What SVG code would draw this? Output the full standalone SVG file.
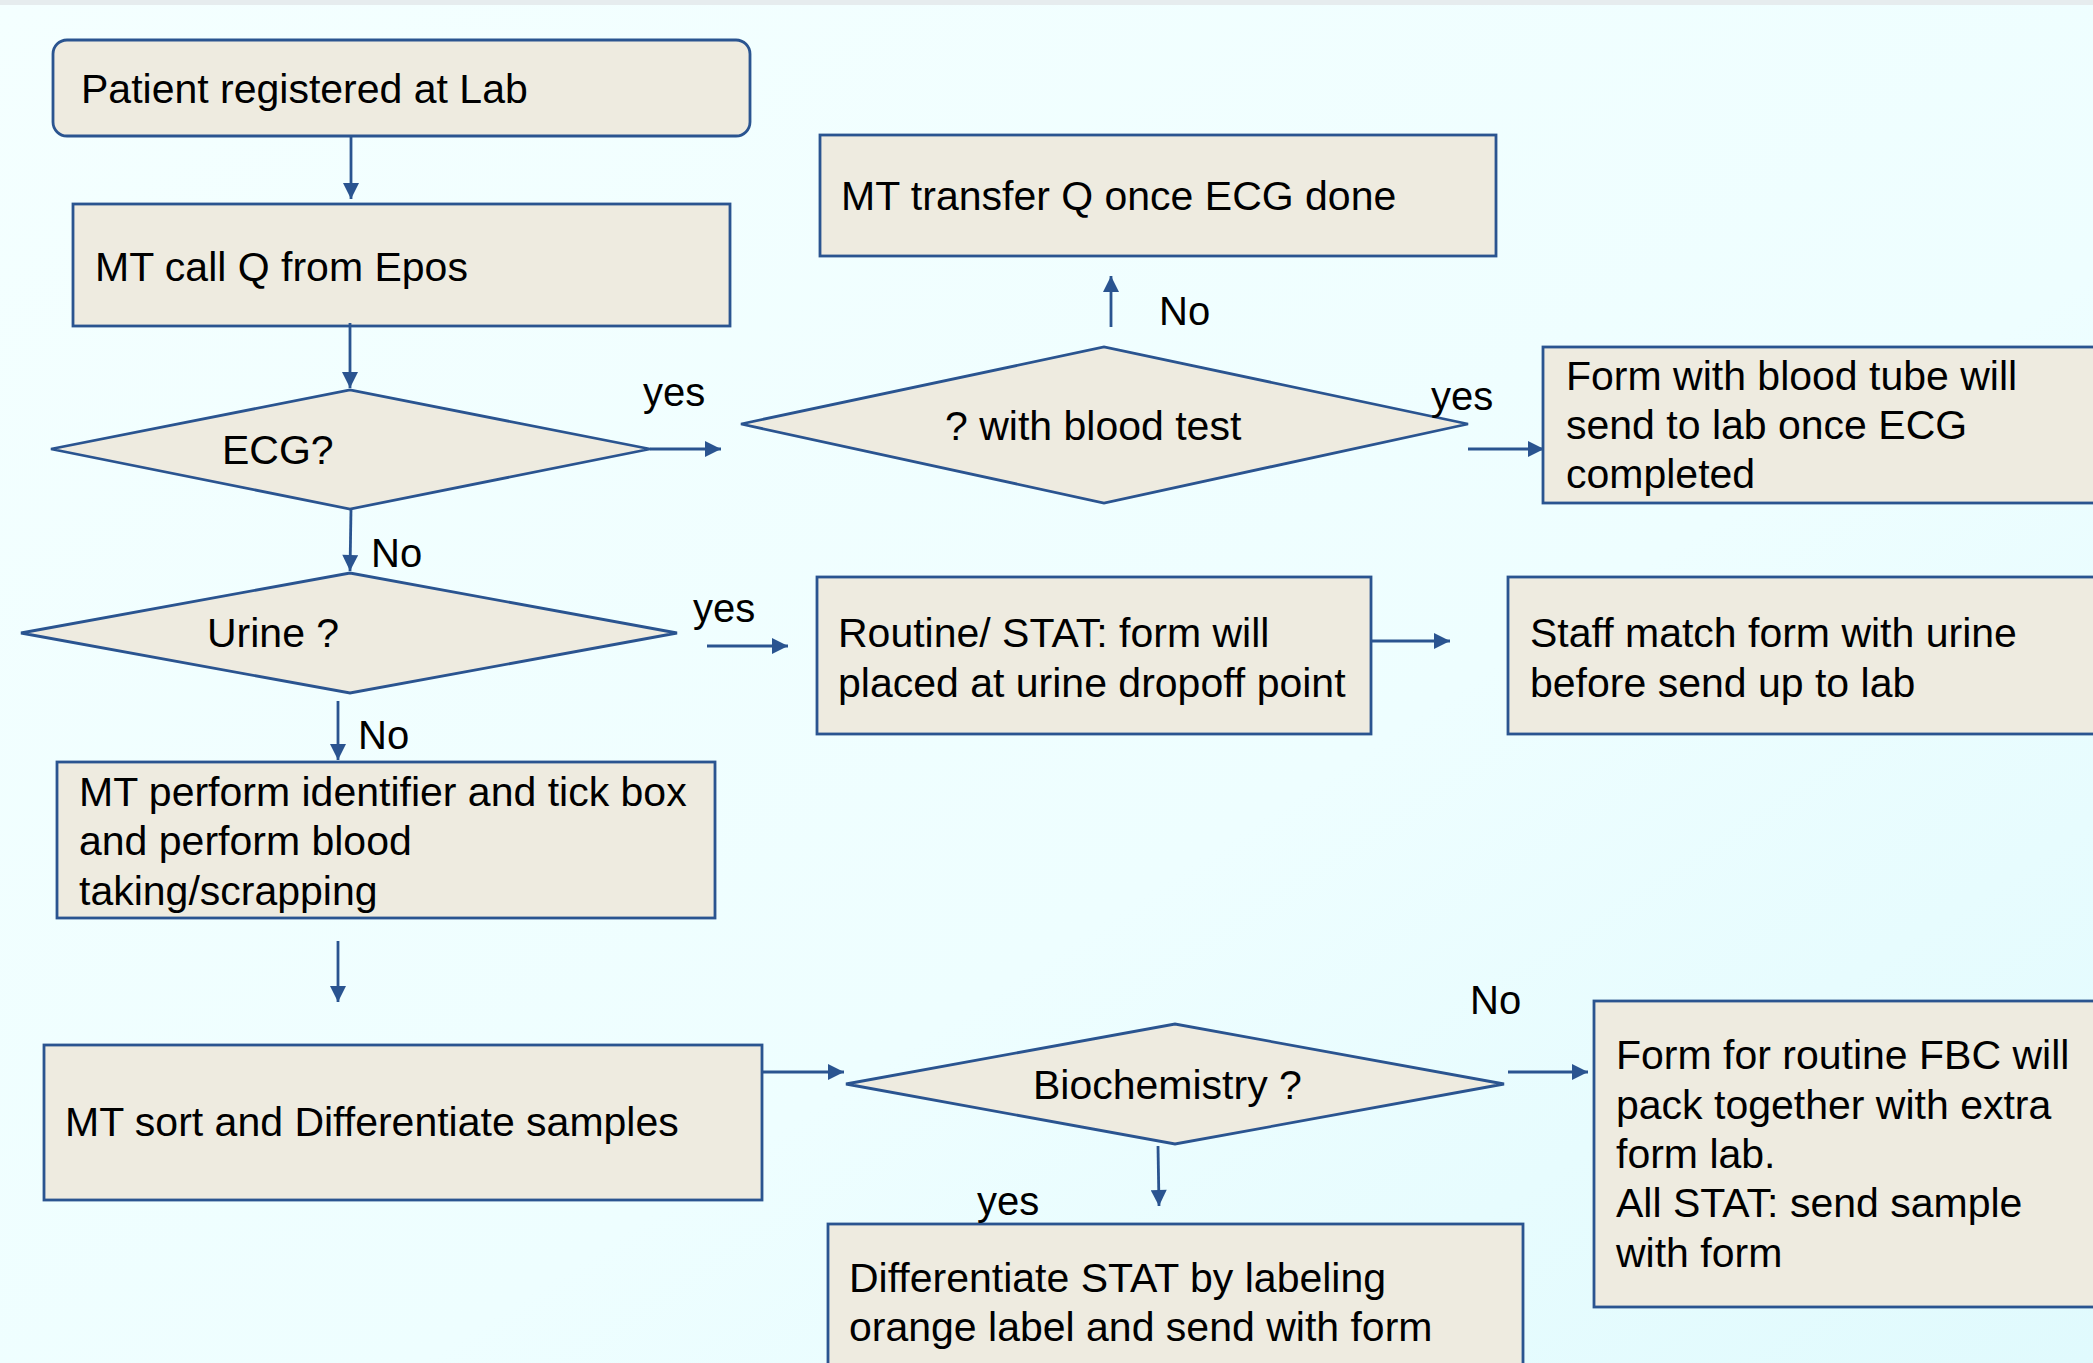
<svg xmlns="http://www.w3.org/2000/svg" width="2093" height="1363" viewBox="0 0 2093 1363">
<defs>
<linearGradient id="bg" x1="0" y1="0" x2="1" y2="1">
<stop offset="0" stop-color="#F4FFFF"/>
<stop offset="0.6" stop-color="#EEFEFF"/>
<stop offset="1" stop-color="#E0FAFD"/>
</linearGradient>
<marker id="ah" viewBox="0 0 10 10" refX="10" refY="5" markerWidth="18" markerHeight="16" orient="auto" markerUnits="userSpaceOnUse">
<path d="M0,0 L10,5 L0,10 z" fill="#2A5490"/>
</marker>
<style>
.n{fill:#EEEBE0;stroke:#2A5490;stroke-width:2.8}
.t{font-family:"Liberation Sans",Arial,sans-serif;font-size:41px;fill:#000}
.l{font-family:"Liberation Sans",Arial,sans-serif;font-size:40px;fill:#000}
.c{fill:none;stroke:#2A5490;stroke-width:2.8;marker-end:url(#ah)}
</style>
</defs>
<rect width="2093" height="1363" fill="url(#bg)"/>
<rect width="2093" height="5" fill="#E6ECEE"/>

<g id="n1">
<rect class="n" x="53" y="40" width="697" height="96" rx="14"/>
<text class="t" x="81" y="103">Patient registered at Lab</text>
</g>
<g id="n2">
<rect class="n" x="73" y="204" width="657" height="122"/>
<text class="t" x="95" y="281">MT call Q from Epos</text>
</g>
<g id="n3">
<polygon class="n" points="51,449 350,390 650,449 350,509"/>
<text class="t" x="222" y="464">ECG?</text>
</g>
<g id="n4">
<polygon class="n" points="741,424 1104,347 1468,424 1104,503"/>
<text class="t" x="945" y="440">? with blood test</text>
</g>
<g id="n5">
<rect class="n" x="820" y="135" width="676" height="121"/>
<text class="t" x="841" y="210">MT transfer Q once ECG done</text>
</g>
<g id="n6">
<rect class="n" x="1543" y="347" width="560" height="156"/>
<text class="t" x="1566" y="390">Form with blood tube will</text>
<text class="t" x="1566" y="439">send to lab once ECG</text>
<text class="t" x="1566" y="488">completed</text>
</g>
<g id="n7">
<polygon class="n" points="21,633 350,573 677,633 350,693"/>
<text class="t" x="207" y="647">Urine ?</text>
</g>
<g id="n8">
<rect class="n" x="817" y="577" width="554" height="157"/>
<text class="t" x="838" y="647">Routine/ STAT: form will</text>
<text class="t" x="838" y="697">placed at urine dropoff point</text>
</g>
<g id="n9">
<rect class="n" x="1508" y="577" width="595" height="157"/>
<text class="t" x="1530" y="647">Staff match form with urine</text>
<text class="t" x="1530" y="697">before send up to lab</text>
</g>
<g id="n10">
<rect class="n" x="57" y="762" width="658" height="156"/>
<text class="t" x="79" y="806">MT perform identifier and tick box</text>
<text class="t" x="79" y="855">and perform blood</text>
<text class="t" x="79" y="905">taking/scrapping</text>
</g>
<g id="n11">
<rect class="n" x="44" y="1045" width="718" height="155"/>
<text class="t" x="65" y="1136">MT sort and Differentiate samples</text>
</g>
<g id="n12">
<polygon class="n" points="846,1084 1175,1024 1504,1084 1175,1144"/>
<text class="t" x="1033" y="1099">Biochemistry ?</text>
</g>
<g id="n13">
<rect class="n" x="1594" y="1001" width="510" height="306"/>
<text class="t" x="1616" y="1069">Form for routine FBC will</text>
<text class="t" x="1616" y="1119">pack together with extra</text>
<text class="t" x="1616" y="1168">form lab.</text>
<text class="t" x="1616" y="1217">All STAT: send sample</text>
<text class="t" x="1616" y="1267">with form</text>
</g>
<g id="n14">
<rect class="n" x="828" y="1224" width="695" height="150"/>
<text class="t" x="849" y="1292">Differentiate STAT by labeling</text>
<text class="t" x="849" y="1341">orange label and send with form</text>
</g>

<g id="connectors">
<line class="c" x1="351" y1="136" x2="351" y2="199"/>
<line class="c" x1="350" y1="323" x2="350" y2="388"/>
<line class="c" x1="650" y1="449" x2="721" y2="449"/>
<line class="c" x1="1111" y1="327" x2="1111" y2="276"/>
<line class="c" x1="1468" y1="449" x2="1544" y2="449"/>
<line class="c" x1="351" y1="509" x2="350" y2="571"/>
<line class="c" x1="707" y1="646" x2="788" y2="646"/>
<line class="c" x1="1371" y1="641" x2="1450" y2="641"/>
<line class="c" x1="338" y1="701" x2="338" y2="760"/>
<line class="c" x1="338" y1="941" x2="338" y2="1002"/>
<line class="c" x1="762" y1="1072" x2="844" y2="1072"/>
<line class="c" x1="1508" y1="1072" x2="1588" y2="1072"/>
<line class="c" x1="1158" y1="1146" x2="1159" y2="1206"/>
<text class="l" x="643" y="406">yes</text>
<text class="l" x="1159" y="325">No</text>
<text class="l" x="1431" y="410">yes</text>
<text class="l" x="371" y="567">No</text>
<text class="l" x="693" y="622">yes</text>
<text class="l" x="358" y="749">No</text>
<text class="l" x="1470" y="1014">No</text>
<text class="l" x="977" y="1215">yes</text>
</g>
</svg>
